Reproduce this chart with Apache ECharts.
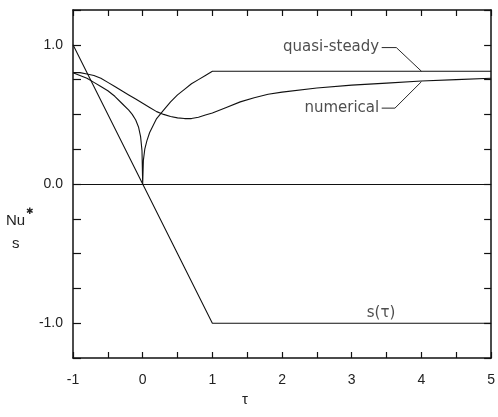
<!DOCTYPE html>
<html>
<head>
<meta charset="utf-8">
<script src="https://cdn.jsdelivr.net/npm/echarts@6/dist/echarts.min.js"></script>
<style>
  html, body { margin: 0; padding: 0; background: #fff; }
  #chart { width: 498px; height: 417px; }
</style>
</head>
<body>
<div id="chart"></div>
<script>
// s(τ): linear ramp from +1 to -1, then constant
const sTau = [-1, 1, 5];
const sVal = [1.0, -1.0, -1.0];

// quasi-steady Nusselt number (cusp at τ = 0)
const qsTau = [-1.0, -0.9, -0.8, -0.7, -0.6, -0.5, -0.4, -0.3, -0.2, -0.15, -0.1, -0.06, -0.03, -0.01, 0,
               0.01, 0.03, 0.06, 0.1, 0.15, 0.2, 0.3, 0.4, 0.5, 0.6, 0.7, 0.8, 0.9, 1.0, 5.0];
const qsVal = [0.80, 0.78, 0.76, 0.73, 0.70, 0.67, 0.63, 0.58, 0.53, 0.50, 0.46, 0.41, 0.34, 0.24, 0.0,
               0.17, 0.25, 0.31, 0.37, 0.42, 0.47, 0.53, 0.59, 0.64, 0.68, 0.72, 0.75, 0.78, 0.81, 0.81];

// numerical solution
const numTau = [-1.0, -0.9, -0.8, -0.7, -0.6, -0.5, -0.4, -0.3, -0.2, -0.1, 0.0, 0.1, 0.2, 0.3, 0.4, 0.5,
                0.6, 0.7, 0.8, 0.9, 1.0, 1.2, 1.4, 1.6, 1.8, 2.0, 2.5, 3.0, 3.5, 4.0, 4.5, 5.0];
const numVal = [0.80, 0.80, 0.79, 0.78, 0.76, 0.73, 0.70, 0.67, 0.64, 0.61, 0.58, 0.55, 0.52, 0.50, 0.485, 0.475,
                0.47, 0.47, 0.48, 0.495, 0.51, 0.55, 0.59, 0.62, 0.645, 0.66, 0.69, 0.71, 0.725, 0.74, 0.75, 0.76];

// tick labels
const xTickLabels = ['-1', '0', '1', '2', '3', '4', '5'];
const yTickValues = [-1, 0, 1];
const yTickLabels = ['-1.0', '0.0', '1.0'];

// curve captions and their leader lines (data coordinates)
const qsCaption = 'quasi-steady';
const numCaption = 'numerical';
const sCaption = 's(τ)';
const qsLeader = [[3.43, 0.98], [3.64, 0.98], [4.0, 0.81]];
const numLeader = [[3.43, 0.545], [3.62, 0.545], [4.0, 0.735]];
const sCaptionAt = [3.42, -0.93];

const zip = (a, b) => a.map((v, i) => [v, b[i]]);
const ink = '#111';
const textInk = '#222';
const tickFont = 'Liberation Sans, Arial, sans-serif';
const captionFont = 'DejaVu Sans, sans-serif';

const frameLine = { onZero: false, lineStyle: { color: ink, width: 1.5 } };
const tickStyle = (len) => ({ show: true, inside: true, length: len, lineStyle: { color: ink, width: 1.2 } });

const chart = echarts.init(document.getElementById('chart'), null, { renderer: 'canvas' });

const lineSeries = (data, width) => ({
  type: 'line',
  data: data,
  showSymbol: false,
  symbol: 'none',
  smooth: false,
  lineStyle: { color: ink, width: width },
  silent: true,
  z: 3
});

const captionSeries = (pt, text, position) => ({
  type: 'scatter',
  data: [pt],
  symbolSize: 1,
  itemStyle: { color: 'rgba(0,0,0,0)' },
  silent: true,
  label: {
    show: true,
    formatter: text,
    position: position,
    distance: 2,
    color: textInk,
    fontFamily: captionFont,
    fontSize: 15
  },
  z: 4
});

chart.setOption({
  animation: false,
  backgroundColor: '#fff',
  grid: { left: 73, right: 3, top: 10, bottom: 59, containLabel: false },
  xAxis: [
    {
      type: 'value', min: -1, max: 5, interval: 0.5, position: 'bottom',
      axisLine: frameLine,
      axisTick: tickStyle(6),
      splitLine: { show: false },
      axisLabel: {
        margin: 15, fontSize: 14, fontFamily: tickFont, color: textInk,
        formatter: (v) => Math.abs(v - Math.round(v)) < 1e-6 ? xTickLabels[Math.round(v) + 1] : ''
      }
    },
    {
      type: 'value', min: -1, max: 5, interval: 0.5, position: 'top',
      axisLine: frameLine,
      axisTick: tickStyle(6),
      splitLine: { show: false },
      axisLabel: { show: false }
    }
  ],
  yAxis: [
    {
      type: 'value', min: -1.25, max: 1.25, interval: 0.25, position: 'left',
      axisLine: frameLine,
      axisTick: tickStyle(8),
      splitLine: { show: false },
      axisLabel: {
        margin: 10, fontSize: 14, fontFamily: tickFont, color: textInk,
        formatter: (v) => {
          const i = yTickValues.findIndex((t) => Math.abs(t - v) < 1e-6);
          return i >= 0 ? yTickLabels[i] : '';
        }
      }
    },
    {
      type: 'value', min: -1.25, max: 1.25, interval: 0.25, position: 'right',
      axisLine: frameLine,
      axisTick: tickStyle(7),
      splitLine: { show: false },
      axisLabel: { show: false }
    }
  ],
  series: [
    Object.assign(lineSeries(zip(sTau, sVal), 1.1), {
      markLine: {
        silent: true, symbol: 'none', label: { show: false },
        lineStyle: { color: ink, width: 1.2, type: 'solid' },
        data: [{ yAxis: 0 }]
      }
    }),
    lineSeries(zip(qsTau, qsVal), 1.1),
    lineSeries(zip(numTau, numVal), 1.1),
    lineSeries(qsLeader, 0.9),
    lineSeries(numLeader, 0.9),
    captionSeries(qsLeader[0], qsCaption, 'left'),
    captionSeries(numLeader[0], numCaption, 'left'),
    captionSeries(sCaptionAt, sCaption, 'inside')
  ],
  graphic: [
    { type: 'text', left: 6, top: 213, style: { text: 'Nu', font: '15px ' + tickFont, fill: textInk } },
    { type: 'text', left: 26, top: 207, style: { text: '✱', font: 'bold 9px DejaVu Sans', fill: textInk } },
    { type: 'text', left: 12, top: 236, style: { text: 's', font: '15px ' + tickFont, fill: textInk } },
    { type: 'text', left: 242, top: 392, style: { text: 'τ', font: '15px ' + tickFont, fill: textInk } }
  ]
});
</script>
</body>
</html>
